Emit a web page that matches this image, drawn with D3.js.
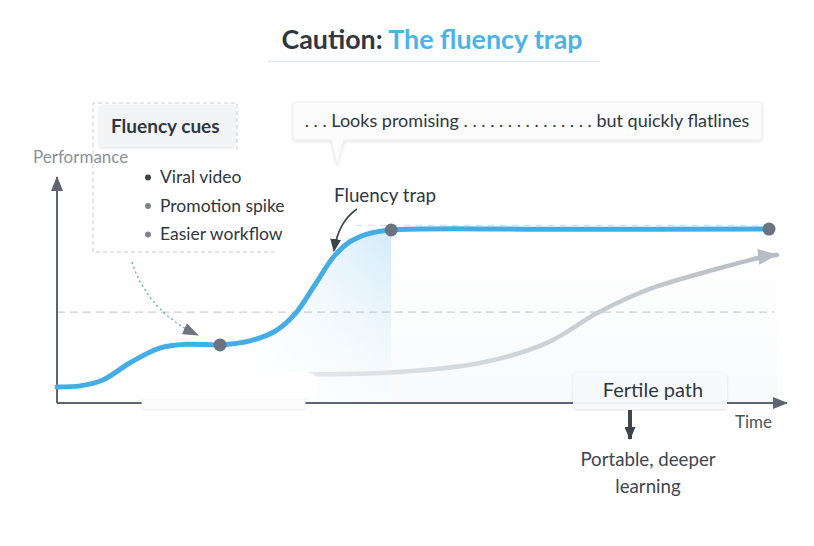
<!DOCTYPE html>
<html>
<head>
<meta charset="utf-8">
<script src="https://cdn.jsdelivr.net/npm/d3@7"></script>
<style>
  html, body { margin: 0; padding: 0; background: #fff; }
  svg { display: block; font-family: "Lato", "Open Sans", sans-serif; }
</style>
</head>
<body>
<div id="chart"></div>
<script>
// Fluency trap: a fast-rising curve that flatlines vs. a slower "fertile" path.

// time (0-100) vs performance (0-100)
const TIME     = [0, 3.2, 6.3, 10, 14.1, 17.9, 22.4, 26.5, 30, 32.7, 35.4, 38, 40.2, 42.6, 45.9, 70, 97.8];
const FLUENCY  = [7.1, 7.6, 10.2, 17.8, 24.4, 26.1, 25.8, 27.6, 32, 39.6, 52.4, 65, 71.6, 75.1, 76.9, 77.2, 77.3];
const FERTILE_T = [34.1, 44.4, 58.1, 67.3, 74.2, 81.0, 90.1, 97.0, 98.9];
const FERTILE_V = [12.9, 13.3, 17.8, 26.7, 40.0, 50.2, 59.1, 64.9, 65.8];
const DOT_IDX  = [6, 14, 16];          // points marked on the fluency curve
const THRESHOLD = 40.4;                // dashed reference line
const CEILING   = 79.0;                // faint dashed line over the plateau
const SHADE_FROM = 28;                 // start of the blue shading under the rise
const CUES = ['Viral video', 'Promotion spike', 'Easier workflow'];

const W = 814, H = 546;
const svg = d3.select('#chart').append('svg').attr('width', W).attr('height', H);
const defs = svg.append('defs');

const x = d3.scaleLinear().domain([0, 100]).range([57, 785]);
const y = d3.scaleLinear().domain([0, 100]).range([403, 178]);

const INK = '#2f3742', AXIS = '#5d6570', BLUE = '#45ade6', DOT = '#6b7280';
const smooth = d3.curveCatmullRom.alpha(0.5);

// gradients / filters
const gBlue = defs.append('linearGradient').attr('id', 'gBlue')
  .attr('x1', 0).attr('y1', 0).attr('x2', 0).attr('y2', 1);
gBlue.append('stop').attr('offset', '0%').attr('stop-color', '#c6e6f7').attr('stop-opacity', 0.8);
gBlue.append('stop').attr('offset', '100%').attr('stop-color', '#eef7fc').attr('stop-opacity', 0.35);
const gBlueH = defs.append('linearGradient').attr('id', 'gBlueH')
  .attr('gradientUnits', 'userSpaceOnUse')
  .attr('x1', x(SHADE_FROM)).attr('x2', x(TIME[14])).attr('y1', 0).attr('y2', 0);
gBlueH.append('stop').attr('offset', '0%').attr('stop-color', '#fff').attr('stop-opacity', 0.85);
gBlueH.append('stop').attr('offset', '100%').attr('stop-color', '#fff').attr('stop-opacity', 0);
const gGray = defs.append('linearGradient').attr('id', 'gGray')
  .attr('gradientUnits', 'userSpaceOnUse')
  .attr('x1', x(FERTILE_T[0])).attr('x2', x(100)).attr('y1', 0).attr('y2', 0);
gGray.append('stop').attr('offset', '0%').attr('stop-color', '#e4e7eb');
gGray.append('stop').attr('offset', '100%').attr('stop-color', '#b6bcc4');
const gPanel = defs.append('linearGradient').attr('id', 'gPanel')
  .attr('x1', 0).attr('y1', 0).attr('x2', 0).attr('y2', 1);
gPanel.append('stop').attr('offset', '0%').attr('stop-color', '#f8f9fb').attr('stop-opacity', 0.15);
gPanel.append('stop').attr('offset', '100%').attr('stop-color', '#f3f5f8').attr('stop-opacity', 0.55);
const shadow = defs.append('filter').attr('id', 'shadow')
  .attr('x', '-10%').attr('y', '-30%').attr('width', '120%').attr('height', '170%');
shadow.append('feDropShadow').attr('dx', 0).attr('dy', 1).attr('stdDeviation', 1.6)
  .attr('flood-color', '#000').attr('flood-opacity', 0.12);

function arrowHead(id, color, w, h) {
  defs.append('marker').attr('id', id)
    .attr('viewBox', `0 0 ${h} ${w}`).attr('refX', h - 1).attr('refY', w / 2)
    .attr('markerWidth', h).attr('markerHeight', w)
    .attr('markerUnits', 'userSpaceOnUse').attr('orient', 'auto')
    .append('path').attr('d', `M0,0 L${h},${w / 2} L0,${w} Z`).attr('fill', color);
}
arrowHead('aAxis', AXIS, 12, 15);
arrowHead('aGray', '#b6bcc4', 16, 20);
arrowHead('aInk', '#3a424c', 11, 13);
arrowHead('aCue', '#6f7680', 12, 16);

// title
const title = svg.append('text').attr('x', 432).attr('y', 49)
  .attr('text-anchor', 'middle').attr('font-size', 26.8).attr('font-weight', 700);
title.append('tspan').attr('fill', INK).text('Caution: ');
title.append('tspan').attr('fill', '#4ab3e8').text('The fluency trap');
svg.append('line').attr('x1', 268).attr('x2', 600).attr('y1', 61.5).attr('y2', 61.5)
  .attr('stroke', '#e4e7eb').attr('stroke-width', 1.5);

// faint panel behind the fertile path
const fertilePts = FERTILE_T.map((t, i) => [t, FERTILE_V[i]]);
svg.append('rect')
  .attr('x', x(TIME[14])).attr('y', y(FERTILE_V[FERTILE_V.length - 1]))
  .attr('width', x(98.9) - x(TIME[14])).attr('height', y(0) - y(FERTILE_V[FERTILE_V.length - 1]))
  .attr('fill', 'url(#gPanel)');

// blue shading under the steep rise
const fluPts = TIME.map((t, i) => [t, FLUENCY[i]]);
const shadePts = fluPts.filter(d => d[0] >= SHADE_FROM - 3 && d[0] <= TIME[14]);
const area = d3.area().x(d => x(d[0])).y0(y(0)).y1(d => y(d[1])).curve(smooth);
svg.append('clipPath').attr('id', 'shadeClip').append('rect')
  .attr('x', x(SHADE_FROM)).attr('y', 0).attr('width', x(TIME[14]) - x(SHADE_FROM)).attr('height', H);
svg.append('path').attr('d', area(shadePts)).attr('fill', 'url(#gBlue)').attr('clip-path', 'url(#shadeClip)');
svg.append('path').attr('d', area(shadePts)).attr('fill', 'url(#gBlueH)').attr('clip-path', 'url(#shadeClip)');

// reference dashes
svg.append('line').attr('x1', x(0)).attr('x2', x(98.5))
  .attr('y1', y(THRESHOLD)).attr('y2', y(THRESHOLD))
  .attr('stroke', '#c9cdd2').attr('stroke-width', 1.3).attr('stroke-dasharray', '8 5');
svg.append('line').attr('x1', x(41)).attr('x2', x(97.8))
  .attr('y1', y(CEILING)).attr('y2', y(CEILING))
  .attr('stroke', '#d6dade').attr('stroke-width', 1.2).attr('stroke-dasharray', '7 5');

// fertile path (gray, slowly rising)
svg.append('path')
  .attr('d', d3.line().x(d => x(d[0])).y(d => y(d[1])).curve(smooth)(fertilePts))
  .attr('fill', 'none').attr('stroke', 'url(#gGray)').attr('stroke-width', 4.5)
  .attr('stroke-linecap', 'round').attr('marker-end', 'url(#aGray)');

// axes
svg.append('line').attr('x1', x(0)).attr('x2', x(0)).attr('y1', y(0)).attr('y2', y(100) - 1)
  .attr('stroke', AXIS).attr('stroke-width', 2).attr('marker-end', 'url(#aAxis)');
svg.append('line').attr('x1', x(0)).attr('x2', x(100) + 2).attr('y1', y(0)).attr('y2', y(0))
  .attr('stroke', AXIS).attr('stroke-width', 2).attr('marker-end', 'url(#aAxis)');
svg.append('text').attr('x', 33).attr('y', 163).attr('font-size', 17)
  .attr('fill', '#8a9099').text('Performance');
svg.append('text').attr('x', 735).attr('y', 428).attr('font-size', 17)
  .attr('fill', '#4a525c').text('Time');

// empty white label box over the axis near the first plateau
svg.append('rect').attr('x', 142).attr('y', 378).attr('width', 163).attr('height', 32)
  .attr('rx', 3).attr('fill', '#fbfbfc').attr('stroke', '#eceef0');
svg.append('rect').attr('x', 122).attr('y', 372).attr('width', 196).attr('height', 27)
  .attr('rx', 12).attr('fill', '#fff');

// fluency curve
svg.append('path')
  .attr('d', d3.line().x(d => x(d[0])).y(d => y(d[1])).curve(smooth)(fluPts))
  .attr('fill', 'none').attr('stroke', BLUE).attr('stroke-width', 5)
  .attr('stroke-linecap', 'round');
svg.selectAll('circle.dot').data(DOT_IDX).join('circle').attr('class', 'dot')
  .attr('cx', i => x(TIME[i])).attr('cy', i => y(FLUENCY[i])).attr('r', 6.5)
  .attr('fill', DOT);

// "Fluency trap" label + curved arrow
svg.append('text').attr('x', 334).attr('y', 202).attr('font-size', 18.8)
  .attr('fill', INK).text('Fluency trap');
svg.append('path').attr('d', 'M357,209 Q338,222 334,251')
  .attr('fill', 'none').attr('stroke', '#3a424c').attr('stroke-width', 1.6)
  .attr('marker-end', 'url(#aInk)');

// fluency cues box
svg.append('path').attr('d', 'M237,150 V103 H93 V252 H275')
  .attr('fill', 'none').attr('stroke', '#c9cdd2').attr('stroke-width', 1)
  .attr('stroke-dasharray', '4 3');
svg.append('rect').attr('x', 99).attr('y', 105).attr('width', 136).attr('height', 42)
  .attr('rx', 3).attr('fill', '#f3f4f6').attr('filter', 'url(#shadow)');
svg.append('text').attr('x', 111).attr('y', 133).attr('font-size', 19).attr('font-weight', 700)
  .attr('fill', INK).text('Fluency cues');
const cue = svg.selectAll('g.cue').data(CUES).join('g').attr('class', 'cue')
  .attr('transform', (d, i) => `translate(148,${183 + i * 28.5})`);
cue.append('circle').attr('cx', 0).attr('cy', -5.5).attr('r', 3)
  .attr('fill', (d, i) => i === 0 ? '#3a424c' : '#7d848e');
cue.append('text').attr('x', 12).attr('font-size', 17.5).attr('fill', INK).text(d => d);

// dotted cue arrow toward the first plateau
svg.append('path').attr('d', 'M132,262 Q148,312 198,335')
  .attr('fill', 'none').attr('stroke', '#5fabb6').attr('stroke-width', 1.3)
  .attr('stroke-dasharray', '2 3').attr('marker-end', 'url(#aCue)');

// callout bubble
const bubble = svg.append('g').attr('filter', 'url(#shadow)');
bubble.append('path')
  .attr('d', 'M296,102 H759 Q762,102 762,105 V137 Q762,140 759,140 H344 L337,165 L331,140 H296 Q293,140 293,137 V105 Q293,102 296,102 Z')
  .attr('fill', '#fcfcfd').attr('stroke', '#eceef0');
svg.append('text').attr('x', 527).attr('y', 127).attr('text-anchor', 'middle')
  .attr('font-size', 18).attr('fill', INK)
  .text('. . . Looks promising . . . . . . . . . . . . . . . but quickly flatlines');

// fertile path label
svg.append('rect').attr('x', 573).attr('y', 373).attr('width', 154).attr('height', 36)
  .attr('rx', 3).attr('fill', '#f9fafb').attr('fill-opacity', 0.92).attr('filter', 'url(#shadow)');
svg.append('text').attr('x', 653).attr('y', 397).attr('text-anchor', 'middle')
  .attr('font-size', 20).attr('fill', INK).text('Fertile path');
svg.append('line').attr('x1', 630).attr('x2', 630).attr('y1', 410).attr('y2', 439)
  .attr('stroke', '#3e4650').attr('stroke-width', 4).attr('marker-end', 'url(#aInk)');
svg.append('text').attr('x', 648).attr('y', 466).attr('text-anchor', 'middle')
  .attr('font-size', 18.7).attr('fill', '#3e4650').text('Portable, deeper');
svg.append('text').attr('x', 648).attr('y', 493).attr('text-anchor', 'middle')
  .attr('font-size', 18.7).attr('fill', '#3e4650').text('learning');
</script>
</body>
</html>
